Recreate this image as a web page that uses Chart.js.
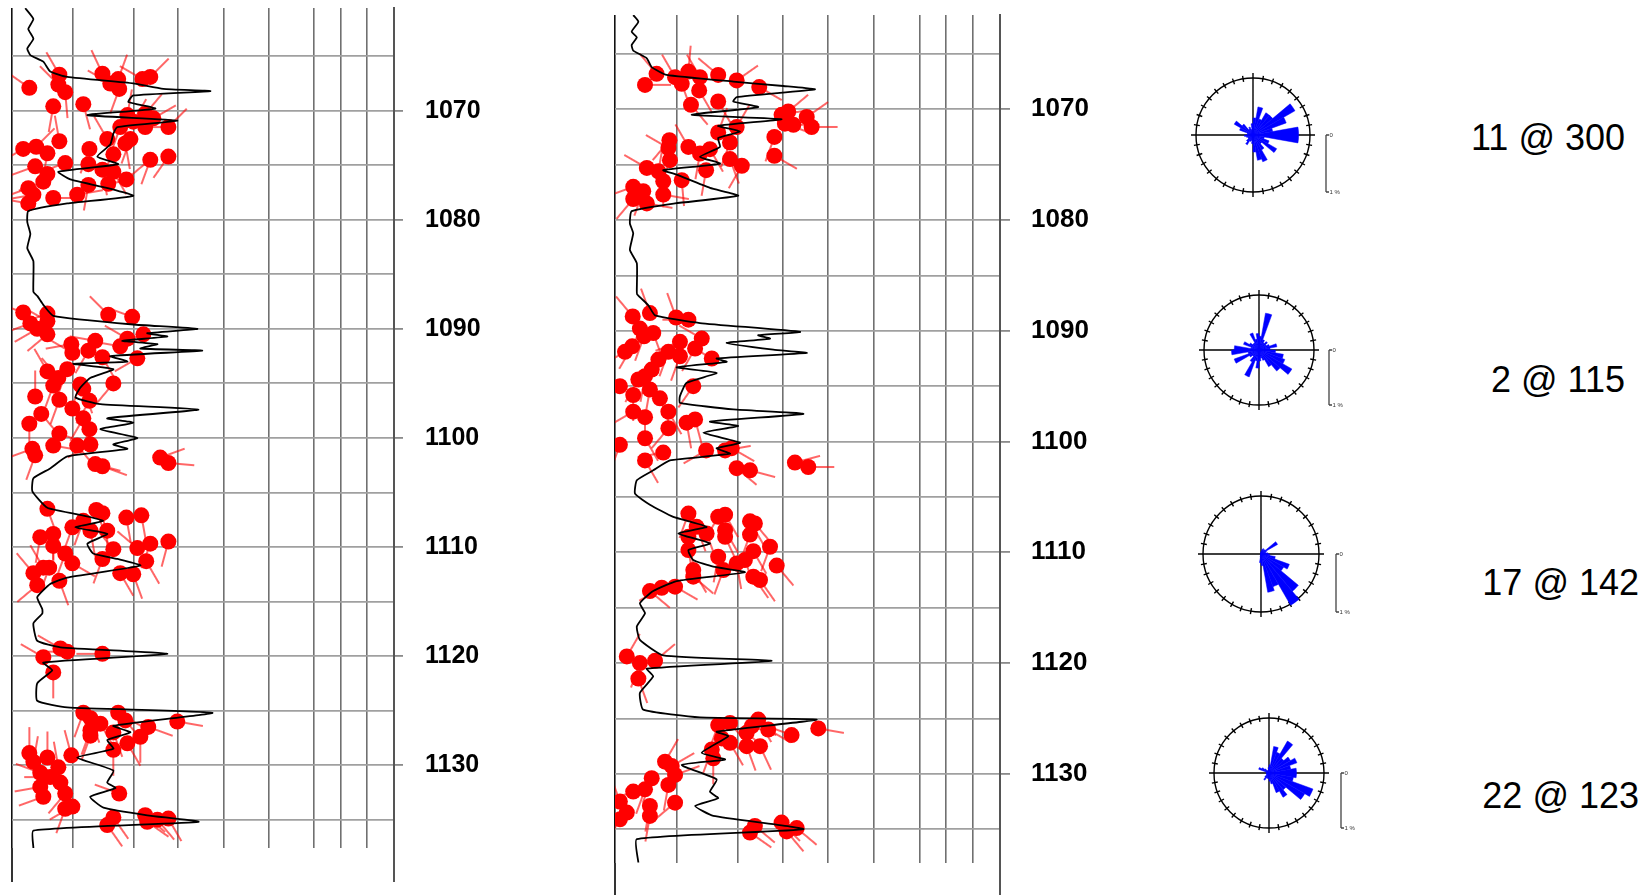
<!DOCTYPE html>
<html lang="en">
<head>
<meta charset="UTF-8">
<title>Dipmeter logs and rose diagrams</title>
<script src="https://cdn.jsdelivr.net/npm/chart.js"></script>
<style>
  body { margin: 0; width: 1648px; height: 895px; background: #fff; position: relative; overflow: hidden;
         font-family: "Liberation Sans", Arial, sans-serif; }
  canvas { position: absolute; }
  .note { position: absolute; font-size: 36px; line-height: 40px; color: #000; white-space: nowrap; }
</style>
</head>
<body>
<canvas id="wellA" width="560" height="895" style="left:0;top:0"></canvas>
<canvas id="wellB" width="520" height="895" style="left:600px;top:0"></canvas>

<script>
// depth grid (m) and GR-track grid positions
const depthTicks = [1065, 1070, 1075, 1080, 1085, 1090, 1095, 1100, 1105, 1110, 1115, 1120, 1125, 1130, 1135];
const grTicks = [0, 24, 48, 65.3, 83, 100.7, 118.7, 129, 139.3, 150];

// well A: [depth, GR]
const wellALog = [
  [1060.6,5.2],[1061.6,8.4],[1062.5,6.4],[1063.4,8.4],[1064.3,6.0],[1064.9,7.2],[1065.5,12.3],[1066.4,15.0],
  [1066.9,21.7],[1067.5,47.6],[1068.0,59.4],[1068.2,77.9],[1068.6,47.6],[1069.2,45.7],[1069.8,56.3],[1070.4,29.6],
  [1070.9,64.9],[1071.5,41.4],[1072.1,39.8],[1073.1,38.6],[1074.2,33.5],[1074.9,41.7],[1075.6,18.2],[1076.3,22.9],
  [1077.0,35.9],[1077.8,47.6],[1078.5,21.7],[1079.2,6.4],[1080.2,6.0],[1081.3,7.2],[1082.6,6.0],[1083.8,8.4],
  [1086.6,8.4],[1087.0,10.0],[1087.8,12.3],[1088.8,16.2],[1089.6,47.6],[1090.0,72.8],[1090.4,53.1],[1090.7,61.0],
  [1091.1,43.3],[1091.4,57.1],[1091.8,50.4],[1092.0,74.7],[1092.5,38.6],[1093.0,45.3],[1093.2,24.1],[1093.7,39.8],
  [1094.5,30.7],[1095.4,26.8],[1096.3,24.9],[1096.9,34.7],[1097.4,73.2],[1098.2,37.4],[1098.6,47.6],[1099.2,34.7],
  [1100.0,49.2],[1100.6,39.8],[1101.0,45.3],[1101.7,21.7],[1102.8,15.0],[1103.7,8.4],[1104.9,8.0],[1106.4,13.9],
  [1107.0,25.6],[1107.6,35.9],[1108.2,24.9],[1108.8,37.4],[1109.7,29.6],[1110.6,31.9],[1111.1,41.4],[1111.7,50.4],
  [1112.8,21.7],[1113.4,15.0],[1114.6,9.9],[1115.7,11.9],[1116.1,11.9],[1117.0,8.4],[1118.6,9.9],[1119.2,19.0],
  [1119.8,61.0],[1120.6,12.3],[1121.3,15.8],[1122.5,9.9],[1124.1,9.9],[1124.7,21.7],[1125.2,78.7],[1126.4,39.8],
  [1127.0,46.5],[1127.7,37.4],[1128.5,39.8],[1129.3,25.6],[1130.5,39.8],[1131.6,37.4],[1132.1,40.6],[1132.9,30.7],
  [1133.9,35.9],[1134.6,53.1],[1135.2,73.2],[1136.0,8.4],[1137.6,8.4]
];

// well A dips: [depth, dip, azimuth]
const wellADips = [
  [1067.9,6.8,305],[1066.7,18.6,330],[1067.6,18.2,315],[1068.3,20.9,175],[1066.6,35.5,335],[1067.1,41.7,20],
  [1067.5,38.6,300],[1068.0,42.1,200],[1067.1,51.2,300],[1066.9,54.3,45],[1069.6,16.2,190],[1069.4,28.0,165],
  [1070.4,45.3,10],[1070.3,52.3,40],[1070.7,55.5,60],[1071.0,47.6,30],[1071.5,42.5,200],[1071.5,52.3,90],
  [1071.5,61.4,45],[1072.6,46.5,200],[1072.6,37.4,330],[1073.0,44.5,170],[1072.8,18.6,350],[1073.5,4.4,240],
  [1073.3,9.5,45],[1073.9,13.9,190],[1073.5,30.4,200],[1074.0,39.8,210],[1074.8,20.9,250],[1074.9,30.0,120],
  [1075.4,35.5,170],[1075.6,39.8,150],[1075.1,9.1,250],[1075.8,13.9,220],[1076.5,12.3,250],[1077.1,6.4,250],
  [1077.7,8.4,260],[1078.5,6.4,280],[1078.0,16.2,90],[1077.7,25.6,80],[1076.8,30.0,190],[1076.7,37.8,80],
  [1076.3,44.9,50],[1074.5,54.3,200],[1074.2,61.4,215],
  [1088.5,4.4,290],[1088.6,13.9,250],[1089.5,7.2,250],[1089.3,13.9,300],[1090.0,9.9,240],[1090.5,13.9,230],
  [1088.7,37.8,315],[1088.9,47.2,290],[1090.9,45.3,300],[1090.5,51.6,250],[1091.6,42.5,280],[1092.7,49.2,240],
  [1091.4,23.3,260],[1091.1,32.7,280],[1092.0,30.0,210],[1092.6,35.5,150],[1092.2,23.7,300],[1093.9,13.9,330],
  [1093.7,21.7,200],[1094.5,18.2,320],[1095.2,16.2,200],[1096.2,9.1,0],[1095.1,26.8,200],[1095.5,28.0,160],
  [1095.0,39.8,220],[1096.5,18.6,200],[1097.3,23.7,150],[1096.6,30.4,210],[1098.2,28.0,210],[1099.2,30.4,200],
  [1097.8,11.5,140],[1098.7,6.8,180],[1099.6,18.6,110],[1100.7,16.2,100],[1100.7,25.6,140],[1100.6,30.8,240],
  [1101.0,8.0,250],[1101.6,9.1,200],[1102.4,32.7,105],[1102.6,35.5,110],[1101.8,58.2,70],[1102.3,61.4,95],
  [1106.5,13.9,160],[1107.6,28.0,200],[1106.6,33.1,160],[1106.9,35.5,170],[1108.2,23.7,200],[1108.5,30.8,170],
  [1108.5,37.4,180],[1107.3,44.9,170],[1107.1,50.8,170],[1109.1,11.1,190],[1108.8,16.2,180],[1109.9,16.2,180],
  [1110.6,20.9,200],[1111.5,23.7,120],[1110.2,39.8,320],[1111.1,35.5,200],[1110.1,49.2,310],[1109.7,54.3,200],
  [1109.5,61.4,195],[1111.3,52.7,150],[1112.4,42.5,150],[1112.5,47.6,160],[1111.9,12.3,330],[1111.9,14.6,200],
  [1113.1,18.6,160],[1113.5,9.9,230],[1112.4,8.4,320],
  [1120.1,12.3,300],[1119.3,19.0,300],[1119.6,21.7,270],[1119.8,35.5,270],[1121.5,16.2,180],[1125.2,28.0,200],
  [1125.7,30.8,160],[1126.8,30.8,200],[1126.2,34.7,150],[1125.2,41.7,120],[1125.9,44.5,140],[1127.0,39.8,160],
  [1126.5,53.5,110],[1126.0,64.9,100],[1127.3,30.8,200],[1128.6,39.8,180],[1128.0,45.3,150],[1127.4,50.4,180],
  [1129.1,23.3,345],[1128.9,6.8,0],[1129.3,13.9,0],[1129.7,8.4,10],[1130.2,18.2,350],[1130.7,11.1,290],
  [1131.1,15.0,270],[1132.0,11.1,260],[1131.6,19.0,280],[1132.6,20.9,220],[1132.9,12.3,250],[1133.8,23.7,240],
  [1134.0,20.9,200],[1132.6,42.1,290],[1134.8,39.8,145],[1135.5,37.4,145],[1134.6,52.3,130],[1135.2,53.1,125],
  [1134.9,61.4,150],[1135.0,57.1,140]
];

// well B: [depth, GR]
const wellBLog = [
  [1061.5,7.1],[1062.1,9.1],[1063.0,6.5],[1063.5,8.5],[1064.2,6.5],[1064.7,7.1],[1065.4,12.4],[1066.2,14.3],
  [1066.9,20.1],[1067.5,46.1],[1067.9,65.6],[1068.2,77.9],[1068.9,47.4],[1069.3,46.1],[1069.8,55.8],[1070.5,29.9],
  [1070.9,64.9],[1071.5,40.2],[1072.0,48.7],[1072.6,40.2],[1073.4,40.9],[1074.3,33.1],[1074.9,40.9],[1075.5,18.8],
  [1075.9,24.0],[1077.1,37.0],[1077.8,48.0],[1078.5,23.4],[1079.2,6.5],[1080.3,5.8],[1081.2,7.1],[1082.7,5.8],
  [1083.9,8.5],[1086.3,8.5],[1086.7,8.6],[1087.7,13.0],[1088.6,15.6],[1089.3,33.1],[1090.1,72.1],[1090.4,55.8],
  [1090.7,60.4],[1091.1,43.5],[1091.7,61.7],[1092.0,74.7],[1092.5,39.6],[1092.8,43.5],[1093.3,24.0],[1093.8,39.6],
  [1094.7,27.9],[1095.9,25.3],[1096.5,25.3],[1097.1,46.1],[1097.5,73.4],[1098.2,37.0],[1098.6,48.0],[1099.2,34.4],
  [1100.1,48.7],[1100.6,39.6],[1101.1,44.8],[1101.7,21.4],[1102.6,14.9],[1103.5,8.5],[1104.7,7.8],[1105.7,13.6],
  [1106.8,22.7],[1107.7,35.7],[1108.3,24.7],[1109.2,37.0],[1109.8,28.6],[1110.7,30.5],[1111.3,38.3],[1111.8,50.6],
  [1112.6,24.0],[1113.5,14.9],[1114.6,9.7],[1115.5,11.7],[1116.7,8.5],[1117.9,9.7],[1119.3,18.8],[1119.8,61.0],
  [1120.5,12.4],[1121.2,14.9],[1122.7,9.7],[1124.2,11.0],[1124.9,33.1],[1125.1,78.6],[1126.2,39.6],[1126.6,44.1],
  [1128.1,33.8],[1128.7,42.9],[1129.2,26.0],[1130.5,39.6],[1131.6,37.0],[1132.2,40.2],[1132.9,31.2],[1133.8,38.3],
  [1135.0,73.4],[1135.9,8.5],[1138.0,9.1]
];

// well B dips: [depth, dip, azimuth]
const wellBDips = [
  [1067.8,11.7,90],[1066.8,16.2,320],[1067.1,23.4,330],[1067.7,26.0,160],[1066.6,28.6,5],[1067.1,33.1,330],
  [1066.9,40.2,310],[1067.4,47.4,55],[1068.0,56.2,120],[1068.3,32.8,150],[1069.3,40.2,150],[1069.6,29.6,140],
  [1070.2,67.5,50],[1070.5,64.9,80],[1071.3,66.2,110],[1071.4,69.5,90],[1070.7,74.7,55],[1071.6,76.6,90],
  [1072.5,62.1,200],[1074.2,62.1,120],[1071.6,47.4,30],[1072.1,40.2,20],[1073.0,44.8,200],[1073.6,37.0,150],
  [1073.4,28.6,330],[1072.8,21.2,220],[1073.5,20.8,300],[1074.6,21.4,200],[1074.0,33.1,190],[1074.5,44.8,160],
  [1075.1,49.4,210],[1075.5,35.5,190],[1076.4,26.0,175],[1075.3,12.4,300],[1075.6,16.9,10],[1076.5,18.8,180],
  [1077.0,7.1,250],[1077.4,11.0,200],[1078.1,7.1,220],[1077.7,18.8,100],[1078.5,12.4,100],
  [1088.7,6.9,320],[1088.4,13.6,340],[1088.8,23.8,340],[1089.0,28.6,270],[1089.8,9.7,200],[1090.2,14.9,160],
  [1090.5,11.3,200],[1091.0,25.3,250],[1090.7,33.8,300],[1091.6,31.2,210],[1091.4,6.7,210],[1091.9,3.9,240],
  [1091.9,20.8,200],[1092.6,16.9,210],[1092.3,25.3,200],[1092.5,37.7,300],[1093.5,14.3,200],[1094.1,11.7,190],
  [1094.4,9.1,210],[1095.0,30.5,215],[1095.0,1.9,240],[1095.8,7.1,180],[1095.3,13.6,190],[1096.1,17.5,160],
  [1097.3,7.1,240],[1097.8,11.7,180],[1097.3,20.8,150],[1098.8,20.8,220],[1099.7,11.7,150],[1100.3,1.9,200],
  [1098.3,27.9,170],[1098.0,31.2,165],[1101.0,18.8,260],[1101.7,11.7,150],[1100.8,35.5,240],[1100.8,42.9,80],
  [1100.6,45.5,120],[1102.4,47.4,130],[1102.6,52.6,105],[1101.9,70.1,75],[1102.3,75.3,90],
  [1106.5,28.6,200],[1106.8,40.2,210],[1106.6,42.9,150],[1107.2,52.6,150],[1107.4,54.5,140],[1107.7,31.8,160],
  [1108.3,35.7,160],[1108.0,42.9,150],[1108.6,42.9,155],[1108.4,52.6,200],[1108.6,28.6,170],[1109.8,28.6,170],
  [1110.4,40.2,190],[1109.9,53.9,150],[1109.5,60.4,200],[1111.2,63.0,140],[1111.0,47.4,170],[1110.7,50.6,160],
  [1111.6,30.5,150],[1112.2,30.5,130],[1111.6,42.2,200],[1112.2,53.9,145],[1112.5,56.5,145],[1113.1,23.4,120],
  [1113.2,18.2,240],[1113.5,13.6,130],
  [1119.4,4.6,30],[1120.0,9.7,200],[1119.8,15.6,50],[1121.4,9.1,160],[1125.6,40.2,200],[1125.4,44.8,140],
  [1125.1,55.8,150],[1126.0,59.7,120],[1126.3,51.3,130],[1125.7,53.3,110],[1127.2,44.8,150],[1126.8,41.6,120],
  [1127.5,51.3,160],[1127.5,56.5,155],[1126.5,68.8,290],[1125.9,79.2,100],[1127.8,37.7,200],[1128.6,38.3,180],
  [1128.9,19.5,30],[1129.3,22.1,60],[1130.1,23.4,70],[1130.4,14.3,200],[1131.0,20.8,190],[1131.6,7.1,250],
  [1131.4,11.7,200],[1132.5,1.9,340],[1133.5,4.6,250],[1134.1,1.9,210],[1132.9,13.6,190],[1133.8,13.6,190],
  [1132.6,23.4,230],[1134.7,54.5,130],[1135.3,52.6,125],[1134.4,64.9,135],[1135.2,66.9,140],[1134.9,70.8,130]
];

// rose diagrams: 36 azimuth bins of 10 deg, value in %
const rose1 = [0.3,0.5,0.3,0.45,0.45,0.85,0.62,0.35,0.8,0.8,0.2,0.3,0.48,0.2,0.3,0.5,0.45,0.3,
               0.15,0.1,0.12,0.2,0.15,0.1,0.1,0.12,0.15,0.1,0.1,0.25,0.38,0.25,0.12,0.15,0.1,0.2];
const rose2 = [0.25,0.68,0.2,0.15,0.2,0.15,0.2,0.33,0.2,0.3,0.45,0.5,0.69,0.5,0.35,0.2,0.15,0.2,
               0.33,0.2,0.52,0.25,0.15,0.2,0.48,0.2,0.5,0.45,0.15,0.3,0.2,0.15,0.15,0.33,0.2,0.3];
const rose3 = [0.05,0.08,0.1,0.08,0.1,0.33,0.1,0.08,0.12,0.15,0.25,0.52,0.45,0.84,1.02,0.6,0.67,0.2,
               0.15,0.05,0,0,0,0,0,0,0,0,0,0,0,0,0,0,0,0.03];
const rose4 = [0.15,0.49,0.4,0.67,0.35,0.45,0.54,0.4,0.5,0.5,0.45,0.85,0.75,0.4,0.51,0.38,0.2,0.15,
               0.1,0.1,0.1,0.15,0.1,0.05,0.05,0.05,0.05,0.05,0.05,0.2,0.15,0.1,0.05,0.05,0.05,0.1];
const roseNotes = ['11 @ 300', '2 @ 115', '17 @ 142', '22 @ 123'];

// ---- layout ----
const roseLayout = [
  { cx: 1253, cy: 135, r: 57, bar: 73 },
  { cx: 1259, cy: 350, r: 55, bar: 70 },
  { cx: 1261, cy: 554, r: 58, bar: 75 },
  { cx: 1269, cy: 773, r: 55, bar: 72 }
];
const noteLayout = [
  { right: 1625, cy: 137.5 },
  { right: 1625, cy: 379.5 },
  { right: 1639, cy: 583 },
  { right: 1639, cy: 796 }
];
const FONT = '"Liberation Sans", Arial, sans-serif';

function makeTail(len) {
  const c = document.createElement('canvas');
  c.width = c.height = len * 2 + 2;
  const g = c.getContext('2d');
  g.strokeStyle = '#ff0000';
  g.lineWidth = 1.2;
  g.beginPath();
  g.moveTo(len + 1, len + 1);
  g.lineTo(len + 1, 1);
  g.stroke();
  return c;
}
const tail = makeTail(26);

// outer track borders run a bit below the gridded area
const frame = {
  id: 'frame',
  afterDraw(chart, args, opts) {
    const { ctx, chartArea: a } = chart;
    ctx.save();
    ctx.strokeStyle = '#000';
    ctx.lineWidth = 1.6;
    ctx.beginPath();
    ctx.moveTo(a.left, a.bottom);
    ctx.lineTo(a.left, a.bottom + opts.extend);
    ctx.stroke();
    ctx.strokeStyle = '#555';
    ctx.lineWidth = 2;
    ctx.beginPath();
    ctx.moveTo(a.right, a.bottom);
    ctx.lineTo(a.right, a.bottom + opts.extend);
    ctx.stroke();
    ctx.restore();
  }
};

function logChart(id, log, dips, yMin, yMax, box) {
  return new Chart(document.getElementById(id), {
    type: 'scatter',
    data: {
      datasets: [
        {
          data: log.map(p => ({ x: p[1], y: p[0] })),
          showLine: true, borderColor: '#000', borderWidth: 1.8,
          pointRadius: 0, tension: 0.15, fill: false
        },
        {
          data: dips.map(p => ({ x: p[1], y: p[0] })),
          pointRadius: 8, pointBackgroundColor: '#ff0000', pointBorderWidth: 0, backgroundColor: '#ff0000'
        },
        {
          data: dips.map(p => ({ x: p[1], y: p[0], az: p[2] })),
          pointStyle: tail, pointRadius: 1, pointRotation: c => c.raw.az
        }
      ]
    },
    options: {
      responsive: false,
      animation: false,
      events: [],
      layout: { padding: { left: box.left, top: box.top, bottom: box.bottom, right: 0 } },
      plugins: { legend: { display: false }, tooltip: { enabled: false }, frame: { extend: box.extend } },
      scales: {
        x: {
          type: 'linear', min: 0, max: 150,
          afterBuildTicks: s => { s.ticks = grTicks.map(v => ({ value: v })); },
          afterFit: s => { s.height = 0; },
          ticks: { display: false },
          border: { display: false },
          grid: { drawTicks: false, lineWidth: 1.6, color: c => c.index === 0 ? '#111' : '#707070' }
        },
        y: {
          type: 'linear', position: 'right', reverse: true, min: yMin, max: yMax,
          afterBuildTicks: s => { s.ticks = depthTicks.map(v => ({ value: v })); },
          afterFit: s => { s.width = box.axis; s.paddingTop = 0; s.paddingBottom = 0; },
          border: { color: '#555', width: 2 },
          grid: {
            color: '#a0a0a0', lineWidth: 1.8, tickLength: box.tick,
            tickColor: c => (c.tick && c.tick.value % 10 === 0) ? '#8a8a8a' : 'rgba(0,0,0,0)'
          },
          ticks: {
            autoSkip: false, padding: box.pad, color: '#000',
            font: { family: FONT, size: box.font, weight: 'bold' },
            callback: v => v % 10 === 0 ? String(v) : ''
          }
        }
      }
    },
    plugins: [frame]
  });
}

logChart('wellA', wellALog, wellADips, 1060.58, 1137.6,
  { left: 12, top: 6, bottom: 47, axis: 166, tick: 9, pad: 22, font: 25, extend: 34 });
logChart('wellB', wellBLog, wellBDips, 1061.49, 1138.05,
  { left: 15, top: 15, bottom: 32, axis: 120, tick: 10, pad: 21, font: 26, extend: 32 });

// compass ring, cross and percent scale bar for each rose
const roseFrame = {
  id: 'roseFrame',
  beforeDatasetsDraw(chart) {
    const s = chart.scales.r, ctx = chart.ctx;
    const cx = s.xCenter, cy = s.yCenter, R = s.drawingArea;
    ctx.save();
    ctx.strokeStyle = '#000';
    ctx.lineWidth = 1.4;
    ctx.beginPath();
    ctx.moveTo(cx - R - 5, cy); ctx.lineTo(cx + R + 5, cy);
    ctx.moveTo(cx, cy - R - 5); ctx.lineTo(cx, cy + R + 5);
    for (let a = 0; a < 360; a += 10) {
      const t = a * Math.PI / 180;
      ctx.moveTo(cx + Math.sin(t) * (R - 3), cy - Math.cos(t) * (R - 3));
      ctx.lineTo(cx + Math.sin(t) * (R + 3), cy - Math.cos(t) * (R + 3));
    }
    ctx.stroke();
    ctx.restore();
  },
  afterDraw(chart, args, opts) {
    const s = chart.scales.r, ctx = chart.ctx;
    const x = s.xCenter + opts.bar, y0 = s.yCenter, y1 = s.yCenter + s.getDistanceFromCenterForValue(1);
    ctx.save();
    ctx.strokeStyle = '#444';
    ctx.lineWidth = 1.3;
    ctx.beginPath();
    ctx.moveTo(x, y0); ctx.lineTo(x, y1);
    ctx.moveTo(x, y0); ctx.lineTo(x + 3, y0);
    ctx.moveTo(x, y1); ctx.lineTo(x + 3, y1);
    ctx.stroke();
    ctx.fillStyle = '#333';
    ctx.font = '6px ' + FONT;
    ctx.textBaseline = 'middle';
    ctx.fillText('0', x + 3.5, y0);
    ctx.fillText('1 %', x + 3.5, y1);
    ctx.restore();
  }
};

const roseBins = Array.from({ length: 36 }, (_, i) => (i * 10) + '-' + (i * 10 + 10));
[rose1, rose2, rose3, rose4].forEach((rose, i) => {
  const L = roseLayout[i];
  const pad = 10, padR = 90;
  const cv = document.createElement('canvas');
  cv.width = 2 * L.r + pad + padR;
  cv.height = 2 * L.r + 2 * pad;
  cv.style.left = (L.cx - L.r - pad) + 'px';
  cv.style.top = (L.cy - L.r - pad) + 'px';
  document.body.appendChild(cv);
  new Chart(cv, {
    type: 'polarArea',
    data: { labels: roseBins, datasets: [{ data: rose, backgroundColor: '#0000ff', borderColor: '#0000ff', borderWidth: 0.5 }] },
    options: {
      responsive: false,
      animation: false,
      events: [],
      layout: { padding: { left: pad, right: padR, top: pad, bottom: pad } },
      plugins: { legend: { display: false }, tooltip: { enabled: false }, roseFrame: { bar: L.bar } },
      scales: {
        r: {
          min: 0, max: 1,
          ticks: { display: false, stepSize: 1 },
          grid: { color: '#000', lineWidth: 1.4, circular: true },
          angleLines: { display: false },
          pointLabels: { display: false }
        }
      }
    },
    plugins: [roseFrame]
  });

  const note = document.createElement('div');
  note.className = 'note';
  note.textContent = roseNotes[i];
  note.style.right = (1648 - noteLayout[i].right) + 'px';
  note.style.top = (noteLayout[i].cy - 19.6) + 'px';
  document.body.appendChild(note);
});
</script>
</body>
</html>
